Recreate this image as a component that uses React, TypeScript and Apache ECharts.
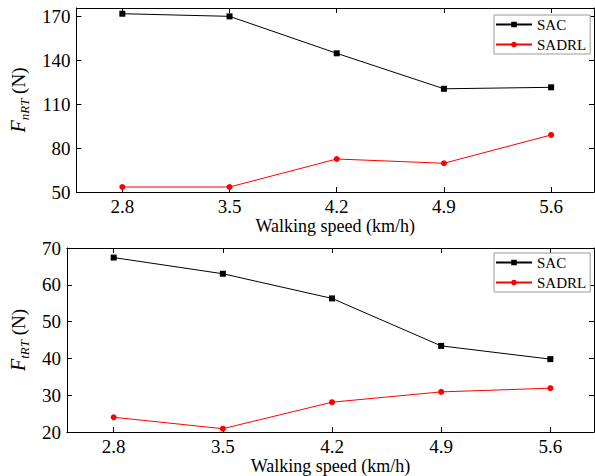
import React, { useEffect, useRef } from "react";
import * as echarts from "echarts";

const speeds = [2.8, 3.5, 4.2, 4.9, 5.6];
const fnSAC = [171.6, 169.8, 144.6, 120.4, 121.4];
const fnSADRL = [53.4, 53.4, 72.5, 69.6, 88.9];
const ftSAC = [67.4, 63.0, 56.3, 43.4, 39.8];
const ftSADRL = [24.0, 20.9, 28.1, 30.9, 31.9];
const fnTicks = [50, 80, 110, 140, 170];
const ftTicks = [20, 30, 40, 50, 60, 70];
const xName = "Walking speed (km/h)";
const seriesNames = ["SAC", "SADRL"];

const FONT = "'Liberation Serif', Tinos, 'Times New Roman', FreeSerif, 'DejaVu Serif', serif";

const pairs = (ys: number[]) => speeds.map((x, i) => [x, ys[i]]);

export default function App() {
  const ref = useRef<HTMLDivElement>(null);
  useEffect(() => {
    if (!ref.current) return;
    const chart = echarts.init(ref.current, null, { renderer: "svg" });
    const xBase = (gridIndex: number, position: "bottom" | "top") => ({
      type: "value",
      gridIndex,
      position,
      min: 2.5,
      max: 5.88,
      axisLine: { show: true, onZero: false, lineStyle: { color: "#000", width: 1 } },
      axisTick: {
        show: true,
        inside: true,
        length: 5,
        customValues: speeds,
        lineStyle: { color: "#000" },
      },
      axisLabel: {
        show: position === "bottom",
        customValues: speeds,
        margin: 5,
        color: "#000",
        fontSize: 19,
        fontFamily: FONT,
        formatter: (v: number) => v.toFixed(1),
      },
      splitLine: { show: false },
      name: position === "bottom" ? xName : "",
      nameLocation: "middle",
      nameGap: 24,
      nameTextStyle: { color: "#000", fontSize: 18, fontFamily: FONT },
    });
    const yBase = (
      gridIndex: number,
      position: "left" | "right",
      min: number,
      max: number,
      ticks: number[],
      sub: string
    ) => ({
      type: "value",
      gridIndex,
      position,
      min,
      max,
      axisLine: { show: true, onZero: false, lineStyle: { color: "#000", width: 1 } },
      axisTick: {
        show: true,
        inside: true,
        length: 5,
        customValues: ticks,
        lineStyle: { color: "#000" },
      },
      axisLabel: {
        show: position === "left",
        customValues: ticks,
        margin: 6,
        color: "#000",
        fontSize: 19,
        fontFamily: FONT,
      },
      splitLine: { show: false },
      name: position === "left" ? `{F|F}{sub|${sub}}{n| (N)}` : "",
      nameLocation: "middle",
      nameRotate: 90,
      nameGap: 34,
      nameTextStyle: {
        color: "#000",
        fontFamily: FONT,
        rich: {
          F: { fontStyle: "italic", fontSize: 20, fontFamily: FONT, color: "#000", lineHeight: 26, verticalAlign: "middle" },
          sub: { fontStyle: "italic", fontSize: 13, fontFamily: FONT, color: "#000", lineHeight: 26, verticalAlign: "bottom" },
          n: { fontSize: 19, fontFamily: FONT, color: "#000", lineHeight: 26, verticalAlign: "middle" },
        },
      },
    });
    const mkSeries = (name: string, ys: number[], idx: number, color: string, symbol: string) => ({
      name,
      type: "line",
      xAxisIndex: idx,
      yAxisIndex: idx,
      data: pairs(ys),
      symbol,
      symbolSize: 6,
      showSymbol: true,
      lineStyle: { color, width: 1 },
      itemStyle: { color },
    });
    const legendBase = (top: number) => ({
      orient: "vertical",
      left: 494,
      top,
      data: seriesNames,
      itemWidth: 36,
      itemHeight: 7,
      itemGap: 5,
      padding: [2, 4, 2, 1],
      borderColor: "#999",
      borderWidth: 1,
      backgroundColor: "#fff",
      textStyle: { color: "#000", fontSize: 15, fontFamily: FONT },
    });
    chart.setOption({
      animation: false,
      backgroundColor: "#fff",
      textStyle: { fontFamily: FONT },
      grid: [
        { left: 63, right: 1, top: 8, height: 184 },
        { left: 63, right: 1, top: 248, height: 184 },
      ],
      xAxis: [xBase(0, "bottom"), xBase(0, "top"), xBase(1, "bottom"), xBase(1, "top")],
      yAxis: [
        yBase(0, "left", 50, 175.5, fnTicks, "nRT"),
        yBase(0, "right", 50, 175.5, fnTicks, "nRT"),
        yBase(1, "left", 20, 70, ftTicks, "tRT"),
        yBase(1, "right", 20, 70, ftTicks, "tRT"),
      ],
      legend: [legendBase(15), legendBase(253)],
      series: [
        mkSeries(seriesNames[0], fnSAC, 0, "#000", "rect"),
        mkSeries(seriesNames[1], fnSADRL, 0, "#ff0000", "circle"),
        mkSeries(seriesNames[0], ftSAC, 2, "#000", "rect"),
        mkSeries(seriesNames[1], ftSADRL, 2, "#ff0000", "circle"),
      ],
    });
    return () => chart.dispose();
  }, []);
  return (
    <div
      ref={ref}
      style={{ width: 595, height: 476, position: "absolute", left: 0, top: 0, fontFamily: "'Liberation Serif', serif" }}
    />
  );
}
